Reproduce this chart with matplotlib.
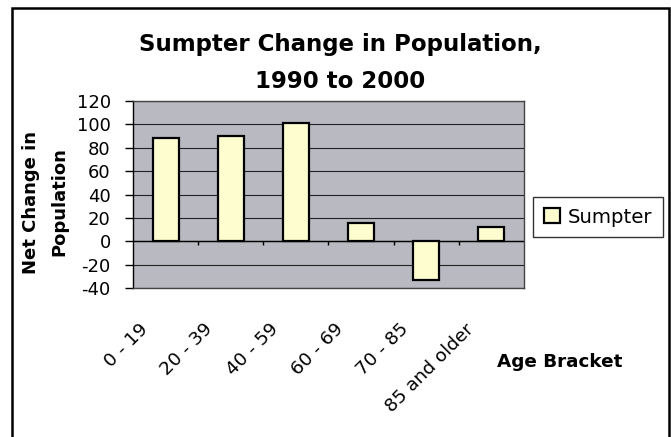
import matplotlib
matplotlib.use("Agg")
import matplotlib.pyplot as plt
import matplotlib.transforms as mtransforms
from matplotlib.patches import Rectangle
import numpy as np

plt.rcParams['font.family'] = ['DejaVu Sans']
plt.rcParams['axes.unicode_minus'] = False

# data
age_brackets = ['0 - 19', '20 - 39', '40 - 59', '60 - 69', '70 - 85', '85 and older']
net_change = [88, 90, 101, 16, -33, 12]
y_ticks = [-40, -20, 0, 20, 40, 60, 80, 100, 120]

fig = plt.figure(figsize=(6.71, 4.37), dpi=100)
fig.patch.set_facecolor('white')

# outer chart frame
fig.patches.append(Rectangle((12 / 671, -0.05), 657 / 671, 1.05 - 8 / 437,
                             transform=fig.transFigure, fill=False,
                             edgecolor='black', linewidth=1.8))

ax = fig.add_axes([133 / 671, 1 - 288 / 437, 391 / 671, 187 / 437])
ax.set_facecolor('#b9bac1')

x = np.arange(len(age_brackets))
ax.bar(x, net_change, width=0.4, color='#fefdcf', edgecolor='black',
       linewidth=1.6, zorder=3, label='Sumpter')

ax.set_xlim(-0.5, len(age_brackets) - 0.5)
ax.set_ylim(min(y_ticks), max(y_ticks))
ax.set_yticks(y_ticks)
ax.yaxis.grid(True, color='#222222', linewidth=0.8, zorder=1)
ax.set_axisbelow(True)
ax.axhline(0, color='black', linewidth=1.0, zorder=2)

# category tick marks on the zero line, between brackets
ax.vlines(x[1:] - 0.5, -3.5, 0, color='black', linewidth=1.0, zorder=2)

for s in ax.spines.values():
    s.set_color('#444444')
    s.set_linewidth(1.0)
ax.spines['left'].set_color('black')

ax.tick_params(axis='y', direction='out', length=6, width=1, labelsize=13, pad=10)
ax.tick_params(axis='x', length=0, pad=0, labelsize=13.3)
ax.set_xticks(x)
ax.set_xticklabels(age_brackets, rotation=45, ha='right', va='top',
                   rotation_mode='anchor')
offset = mtransforms.ScaledTranslation(-0.27, -0.32, fig.dpi_scale_trans)
for lab in ax.get_xticklabels():
    lab.set_transform(lab.get_transform() + offset)

fig.text(340 / 671, 1 - 44 / 437, 'Sumpter Change in Population,',
         ha='center', va='center', fontsize=16.5, fontweight='bold')
fig.text(340 / 671, 1 - 81 / 437, '1990 to 2000',
         ha='center', va='center', fontsize=16.5, fontweight='bold')

fig.text(45 / 671, 1 - 202 / 437, 'Net Change in\nPopulation', rotation=90,
         ha='center', va='center', fontsize=13, fontweight='bold',
         linespacing=1.75, multialignment='center')

fig.text(560 / 671, 1 - 362 / 437, 'Age Bracket', ha='center', va='center',
         fontsize=13.2, fontweight='bold')

leg = ax.legend(loc='center left', bbox_to_anchor=(533 / 671, 1 - 217 / 437),
                bbox_transform=fig.transFigure, frameon=True, fancybox=False,
                fontsize=14.2, handlelength=0.8, handleheight=0.8,
                handletextpad=0.4, borderpad=0.55, borderaxespad=0)
leg.get_frame().set_edgecolor('black')
leg.get_frame().set_linewidth(1.0)

fig.savefig('out.png', dpi=100)
